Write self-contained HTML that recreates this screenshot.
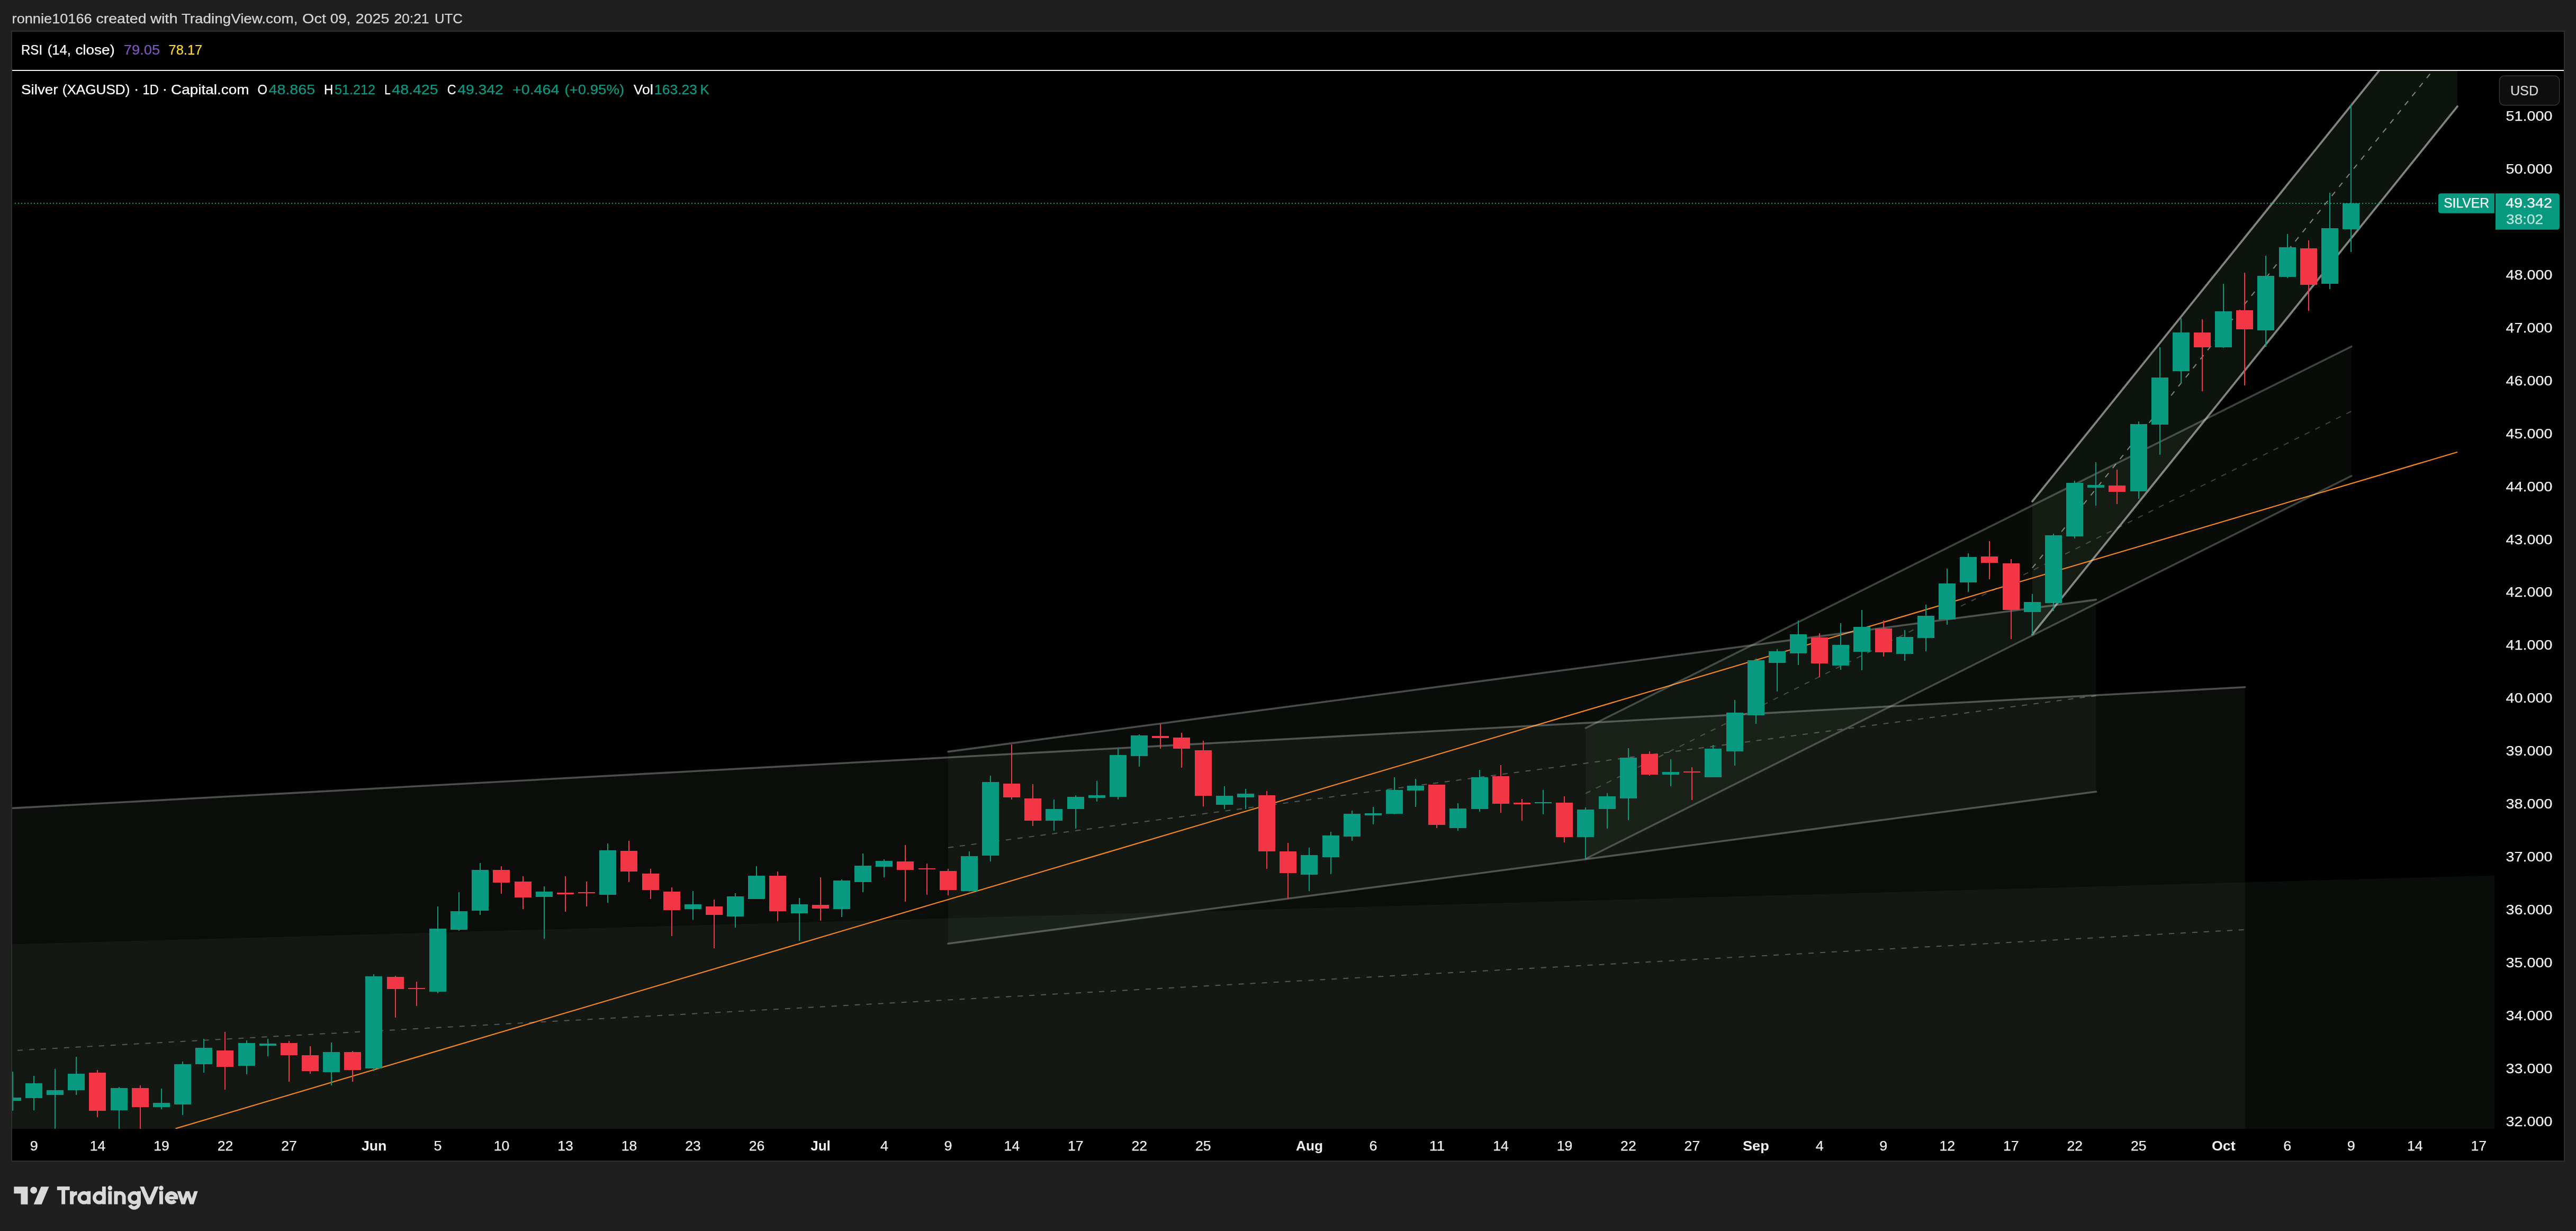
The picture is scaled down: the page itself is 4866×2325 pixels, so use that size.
<!DOCTYPE html>
<html><head><meta charset="utf-8"><title>Silver chart</title>
<style>html,body{margin:0;padding:0;background:#1f1f1f;}body{width:4866px;height:2325px;overflow:hidden;}svg{display:block;}text{font-family:"Liberation Sans",sans-serif;}</style></head><body>
<svg width="4866" height="2325" viewBox="0 0 4866 2325">
<defs><clipPath id="pane"><rect x="23.0" y="134.0" width="4689.0" height="1998.0"/></clipPath></defs>
<rect x="0" y="0" width="4866" height="2325" fill="#1f1f1f"/>
<rect x="22" y="59" width="4822" height="2134" fill="#000" stroke="#2e2e2e" stroke-width="2"/>
<g clip-path="url(#pane)">
<polygon points="0,1527.6 4240.8,1297.8 4240.8,2400 0,2400" fill="rgba(137,165,128,0.08)"/>
<polygon points="0,1784.1 4711.9,1653.4 4711.9,2400 0,2400" fill="rgba(110,162,122,0.08)"/>
<polygon points="1791.0,1419.6 3959.5,1132.6 3959.5,1495.3 1791.0,1782.3" fill="rgba(110,162,122,0.08)"/>
<polygon points="2995.4,1375.0 4441.9,654.3 4441.9,898.9 2995.4,1622.0" fill="rgba(130,170,130,0.062)"/>
<polygon points="3839.0,947.0 4641.9,-50.2 4641.9,201.1 3839.0,1198.3" fill="rgba(130,190,130,0.10)"/>
<line x1="331.5" y1="2131.6" x2="4642.1" y2="853.8" stroke="#f5861f" stroke-width="2.2" stroke-linecap="butt"/>
<line x1="0.0" y1="1527.6" x2="4240.8" y2="1297.8" stroke="rgba(212,218,212,0.34)" stroke-width="3.6" stroke-linecap="round"/>
<line x1="11.0" y1="1985.0" x2="4240.8" y2="1755.8" stroke="rgba(212,218,212,0.34)" stroke-width="2" stroke-linecap="butt" stroke-dasharray="10 12"/>
<line x1="1791.0" y1="1419.6" x2="3959.5" y2="1132.6" stroke="rgba(212,218,212,0.33)" stroke-width="3.6" stroke-linecap="round"/>
<line x1="1791.0" y1="1782.3" x2="3959.5" y2="1495.3" stroke="rgba(212,218,212,0.33)" stroke-width="3.6" stroke-linecap="round"/>
<line x1="1791.0" y1="1600.9" x2="3959.5" y2="1313.9" stroke="rgba(212,218,212,0.33)" stroke-width="2" stroke-linecap="butt" stroke-dasharray="10 12"/>
<line x1="2995.4" y1="1375.0" x2="4441.9" y2="654.3" stroke="rgba(205,222,205,0.29)" stroke-width="3.6" stroke-linecap="round"/>
<line x1="2995.4" y1="1622.0" x2="4441.9" y2="898.9" stroke="rgba(205,222,205,0.29)" stroke-width="3.6" stroke-linecap="round"/>
<line x1="2995.4" y1="1498.5" x2="4441.9" y2="776.6" stroke="rgba(205,222,205,0.29)" stroke-width="2" stroke-linecap="butt" stroke-dasharray="10 12"/>
<line x1="3839.0" y1="947.0" x2="4641.9" y2="-50.2" stroke="rgba(218,220,214,0.58)" stroke-width="3.8" stroke-linecap="round"/>
<line x1="3839.0" y1="1198.3" x2="4641.9" y2="201.1" stroke="rgba(218,220,214,0.58)" stroke-width="3.8" stroke-linecap="round"/>
<line x1="3839.0" y1="1072.7" x2="4641.9" y2="75.4" stroke="rgba(218,220,214,0.58)" stroke-width="2" stroke-linecap="butt" stroke-dasharray="10 12"/>
<line x1="28" y1="384" x2="4603" y2="384" stroke="#089c84" stroke-width="2" stroke-dasharray="2 4"/>
<rect x="23" y="2024" width="2" height="74" fill="#089981"/>
<rect x="8" y="2073" width="32" height="6" fill="#089981"/>
<rect x="63" y="2032" width="2" height="65" fill="#089981"/>
<rect x="48" y="2046" width="32" height="28" fill="#089981"/>
<rect x="103" y="2019" width="2" height="157" fill="#089981"/>
<rect x="88" y="2059" width="32" height="9" fill="#089981"/>
<rect x="143" y="1996" width="2" height="72" fill="#089981"/>
<rect x="128" y="2028" width="32" height="31" fill="#089981"/>
<rect x="183" y="2021" width="2" height="89" fill="#f23645"/>
<rect x="168" y="2026" width="32" height="72" fill="#f23645"/>
<rect x="224" y="2053" width="2" height="123" fill="#089981"/>
<rect x="209" y="2055" width="32" height="42" fill="#089981"/>
<rect x="264" y="2050" width="2" height="126" fill="#f23645"/>
<rect x="249" y="2055" width="32" height="36" fill="#f23645"/>
<rect x="304" y="2056" width="2" height="39" fill="#089981"/>
<rect x="289" y="2083" width="32" height="8" fill="#089981"/>
<rect x="344" y="2005" width="2" height="101" fill="#089981"/>
<rect x="329" y="2010" width="32" height="76" fill="#089981"/>
<rect x="384" y="1962" width="2" height="64" fill="#089981"/>
<rect x="369" y="1979" width="32" height="31" fill="#089981"/>
<rect x="424" y="1949" width="2" height="109" fill="#f23645"/>
<rect x="409" y="1984" width="32" height="31" fill="#f23645"/>
<rect x="465" y="1965" width="2" height="64" fill="#089981"/>
<rect x="450" y="1970" width="32" height="43" fill="#089981"/>
<rect x="505" y="1962" width="2" height="33" fill="#089981"/>
<rect x="490" y="1971" width="32" height="4" fill="#089981"/>
<rect x="545" y="1966" width="2" height="77" fill="#f23645"/>
<rect x="530" y="1970" width="32" height="23" fill="#f23645"/>
<rect x="585" y="1976" width="2" height="52" fill="#f23645"/>
<rect x="570" y="1993" width="32" height="30" fill="#f23645"/>
<rect x="625" y="1969" width="2" height="81" fill="#089981"/>
<rect x="610" y="1987" width="32" height="38" fill="#089981"/>
<rect x="665" y="1985" width="2" height="58" fill="#f23645"/>
<rect x="650" y="1987" width="32" height="34" fill="#f23645"/>
<rect x="705" y="1840" width="2" height="183" fill="#089981"/>
<rect x="690" y="1844" width="32" height="174" fill="#089981"/>
<rect x="746" y="1843" width="2" height="79" fill="#f23645"/>
<rect x="731" y="1845" width="32" height="23" fill="#f23645"/>
<rect x="786" y="1854" width="2" height="46" fill="#f23645"/>
<rect x="771" y="1866" width="32" height="2" fill="#f23645"/>
<rect x="826" y="1712" width="2" height="164" fill="#089981"/>
<rect x="811" y="1754" width="32" height="119" fill="#089981"/>
<rect x="866" y="1685" width="2" height="73" fill="#089981"/>
<rect x="851" y="1721" width="32" height="35" fill="#089981"/>
<rect x="906" y="1630" width="2" height="98" fill="#089981"/>
<rect x="891" y="1643" width="32" height="77" fill="#089981"/>
<rect x="946" y="1636" width="2" height="52" fill="#f23645"/>
<rect x="931" y="1643" width="32" height="24" fill="#f23645"/>
<rect x="987" y="1655" width="2" height="62" fill="#f23645"/>
<rect x="972" y="1665" width="32" height="30" fill="#f23645"/>
<rect x="1027" y="1674" width="2" height="99" fill="#089981"/>
<rect x="1012" y="1684" width="32" height="10" fill="#089981"/>
<rect x="1067" y="1655" width="2" height="67" fill="#f23645"/>
<rect x="1052" y="1686" width="32" height="3" fill="#f23645"/>
<rect x="1107" y="1665" width="2" height="47" fill="#f23645"/>
<rect x="1092" y="1685" width="32" height="2" fill="#f23645"/>
<rect x="1147" y="1593" width="2" height="112" fill="#089981"/>
<rect x="1132" y="1606" width="32" height="84" fill="#089981"/>
<rect x="1187" y="1588" width="2" height="78" fill="#f23645"/>
<rect x="1172" y="1607" width="32" height="39" fill="#f23645"/>
<rect x="1228" y="1641" width="2" height="57" fill="#f23645"/>
<rect x="1213" y="1650" width="32" height="31" fill="#f23645"/>
<rect x="1268" y="1676" width="2" height="92" fill="#f23645"/>
<rect x="1253" y="1684" width="32" height="35" fill="#f23645"/>
<rect x="1308" y="1683" width="2" height="54" fill="#089981"/>
<rect x="1293" y="1708" width="32" height="9" fill="#089981"/>
<rect x="1348" y="1699" width="2" height="92" fill="#f23645"/>
<rect x="1333" y="1712" width="32" height="16" fill="#f23645"/>
<rect x="1388" y="1687" width="2" height="65" fill="#089981"/>
<rect x="1373" y="1693" width="32" height="38" fill="#089981"/>
<rect x="1428" y="1636" width="2" height="62" fill="#089981"/>
<rect x="1413" y="1654" width="32" height="44" fill="#089981"/>
<rect x="1468" y="1646" width="2" height="94" fill="#f23645"/>
<rect x="1453" y="1654" width="32" height="67" fill="#f23645"/>
<rect x="1509" y="1696" width="2" height="81" fill="#089981"/>
<rect x="1494" y="1708" width="32" height="17" fill="#089981"/>
<rect x="1549" y="1657" width="2" height="82" fill="#f23645"/>
<rect x="1534" y="1709" width="32" height="7" fill="#f23645"/>
<rect x="1589" y="1661" width="2" height="71" fill="#089981"/>
<rect x="1574" y="1663" width="32" height="54" fill="#089981"/>
<rect x="1629" y="1612" width="2" height="73" fill="#089981"/>
<rect x="1614" y="1635" width="32" height="31" fill="#089981"/>
<rect x="1669" y="1623" width="2" height="34" fill="#089981"/>
<rect x="1654" y="1626" width="32" height="11" fill="#089981"/>
<rect x="1709" y="1596" width="2" height="107" fill="#f23645"/>
<rect x="1694" y="1627" width="32" height="16" fill="#f23645"/>
<rect x="1750" y="1631" width="2" height="59" fill="#f23645"/>
<rect x="1735" y="1640" width="32" height="2" fill="#f23645"/>
<rect x="1790" y="1641" width="2" height="50" fill="#f23645"/>
<rect x="1775" y="1645" width="32" height="36" fill="#f23645"/>
<rect x="1830" y="1608" width="2" height="76" fill="#089981"/>
<rect x="1815" y="1617" width="32" height="66" fill="#089981"/>
<rect x="1870" y="1465" width="2" height="162" fill="#089981"/>
<rect x="1855" y="1477" width="32" height="139" fill="#089981"/>
<rect x="1910" y="1406" width="2" height="104" fill="#f23645"/>
<rect x="1895" y="1480" width="32" height="26" fill="#f23645"/>
<rect x="1950" y="1481" width="2" height="79" fill="#f23645"/>
<rect x="1935" y="1508" width="32" height="42" fill="#f23645"/>
<rect x="1990" y="1510" width="2" height="59" fill="#089981"/>
<rect x="1975" y="1528" width="32" height="22" fill="#089981"/>
<rect x="2031" y="1502" width="2" height="63" fill="#089981"/>
<rect x="2016" y="1505" width="32" height="23" fill="#089981"/>
<rect x="2071" y="1475" width="2" height="39" fill="#089981"/>
<rect x="2056" y="1502" width="32" height="5" fill="#089981"/>
<rect x="2111" y="1414" width="2" height="96" fill="#089981"/>
<rect x="2096" y="1426" width="32" height="79" fill="#089981"/>
<rect x="2151" y="1387" width="2" height="61" fill="#089981"/>
<rect x="2136" y="1389" width="32" height="39" fill="#089981"/>
<rect x="2191" y="1367" width="2" height="47" fill="#f23645"/>
<rect x="2176" y="1390" width="32" height="4" fill="#f23645"/>
<rect x="2231" y="1384" width="2" height="66" fill="#f23645"/>
<rect x="2216" y="1393" width="32" height="21" fill="#f23645"/>
<rect x="2272" y="1399" width="2" height="124" fill="#f23645"/>
<rect x="2257" y="1417" width="32" height="86" fill="#f23645"/>
<rect x="2312" y="1485" width="2" height="43" fill="#089981"/>
<rect x="2297" y="1503" width="32" height="17" fill="#089981"/>
<rect x="2352" y="1490" width="2" height="38" fill="#089981"/>
<rect x="2337" y="1499" width="32" height="7" fill="#089981"/>
<rect x="2392" y="1494" width="2" height="147" fill="#f23645"/>
<rect x="2377" y="1502" width="32" height="106" fill="#f23645"/>
<rect x="2432" y="1592" width="2" height="105" fill="#f23645"/>
<rect x="2417" y="1608" width="32" height="41" fill="#f23645"/>
<rect x="2472" y="1601" width="2" height="82" fill="#089981"/>
<rect x="2457" y="1615" width="32" height="37" fill="#089981"/>
<rect x="2513" y="1571" width="2" height="80" fill="#089981"/>
<rect x="2498" y="1578" width="32" height="41" fill="#089981"/>
<rect x="2553" y="1531" width="2" height="57" fill="#089981"/>
<rect x="2538" y="1537" width="32" height="43" fill="#089981"/>
<rect x="2593" y="1524" width="2" height="33" fill="#089981"/>
<rect x="2578" y="1536" width="32" height="4" fill="#089981"/>
<rect x="2633" y="1468" width="2" height="70" fill="#089981"/>
<rect x="2618" y="1492" width="32" height="45" fill="#089981"/>
<rect x="2673" y="1471" width="2" height="53" fill="#089981"/>
<rect x="2658" y="1484" width="32" height="9" fill="#089981"/>
<rect x="2713" y="1482" width="2" height="82" fill="#f23645"/>
<rect x="2698" y="1482" width="32" height="76" fill="#f23645"/>
<rect x="2753" y="1517" width="2" height="52" fill="#089981"/>
<rect x="2738" y="1527" width="32" height="37" fill="#089981"/>
<rect x="2794" y="1454" width="2" height="79" fill="#089981"/>
<rect x="2779" y="1468" width="32" height="60" fill="#089981"/>
<rect x="2834" y="1445" width="2" height="90" fill="#f23645"/>
<rect x="2819" y="1466" width="32" height="52" fill="#f23645"/>
<rect x="2874" y="1509" width="2" height="41" fill="#f23645"/>
<rect x="2859" y="1516" width="32" height="3" fill="#f23645"/>
<rect x="2914" y="1492" width="2" height="46" fill="#089981"/>
<rect x="2899" y="1515" width="32" height="2" fill="#089981"/>
<rect x="2954" y="1504" width="2" height="87" fill="#f23645"/>
<rect x="2939" y="1516" width="32" height="65" fill="#f23645"/>
<rect x="2994" y="1525" width="2" height="98" fill="#089981"/>
<rect x="2979" y="1529" width="32" height="52" fill="#089981"/>
<rect x="3035" y="1498" width="2" height="67" fill="#089981"/>
<rect x="3020" y="1504" width="32" height="24" fill="#089981"/>
<rect x="3075" y="1413" width="2" height="136" fill="#089981"/>
<rect x="3060" y="1431" width="32" height="77" fill="#089981"/>
<rect x="3115" y="1419" width="2" height="46" fill="#f23645"/>
<rect x="3100" y="1424" width="32" height="39" fill="#f23645"/>
<rect x="3155" y="1434" width="2" height="51" fill="#089981"/>
<rect x="3140" y="1458" width="32" height="5" fill="#089981"/>
<rect x="3195" y="1449" width="2" height="62" fill="#f23645"/>
<rect x="3180" y="1457" width="32" height="2" fill="#f23645"/>
<rect x="3235" y="1407" width="2" height="61" fill="#089981"/>
<rect x="3220" y="1414" width="32" height="54" fill="#089981"/>
<rect x="3276" y="1322" width="2" height="124" fill="#089981"/>
<rect x="3261" y="1346" width="32" height="73" fill="#089981"/>
<rect x="3316" y="1244" width="2" height="123" fill="#089981"/>
<rect x="3301" y="1247" width="32" height="104" fill="#089981"/>
<rect x="3356" y="1226" width="2" height="80" fill="#089981"/>
<rect x="3341" y="1230" width="32" height="22" fill="#089981"/>
<rect x="3396" y="1172" width="2" height="84" fill="#089981"/>
<rect x="3381" y="1198" width="32" height="36" fill="#089981"/>
<rect x="3436" y="1196" width="2" height="83" fill="#f23645"/>
<rect x="3421" y="1204" width="32" height="49" fill="#f23645"/>
<rect x="3476" y="1177" width="2" height="88" fill="#089981"/>
<rect x="3461" y="1218" width="32" height="39" fill="#089981"/>
<rect x="3516" y="1152" width="2" height="114" fill="#089981"/>
<rect x="3501" y="1184" width="32" height="47" fill="#089981"/>
<rect x="3557" y="1172" width="2" height="68" fill="#f23645"/>
<rect x="3542" y="1187" width="32" height="45" fill="#f23645"/>
<rect x="3597" y="1190" width="2" height="58" fill="#089981"/>
<rect x="3582" y="1203" width="32" height="32" fill="#089981"/>
<rect x="3637" y="1142" width="2" height="88" fill="#089981"/>
<rect x="3622" y="1163" width="32" height="42" fill="#089981"/>
<rect x="3677" y="1074" width="2" height="106" fill="#089981"/>
<rect x="3662" y="1102" width="32" height="68" fill="#089981"/>
<rect x="3717" y="1045" width="2" height="73" fill="#089981"/>
<rect x="3702" y="1052" width="32" height="48" fill="#089981"/>
<rect x="3757" y="1022" width="2" height="72" fill="#f23645"/>
<rect x="3742" y="1051" width="32" height="12" fill="#f23645"/>
<rect x="3798" y="1056" width="2" height="151" fill="#f23645"/>
<rect x="3783" y="1064" width="32" height="88" fill="#f23645"/>
<rect x="3838" y="1122" width="2" height="77" fill="#089981"/>
<rect x="3823" y="1137" width="32" height="19" fill="#089981"/>
<rect x="3878" y="1008" width="2" height="146" fill="#089981"/>
<rect x="3863" y="1011" width="32" height="128" fill="#089981"/>
<rect x="3918" y="908" width="2" height="109" fill="#089981"/>
<rect x="3903" y="912" width="32" height="101" fill="#089981"/>
<rect x="3958" y="873" width="2" height="82" fill="#089981"/>
<rect x="3943" y="916" width="32" height="5" fill="#089981"/>
<rect x="3998" y="887" width="2" height="65" fill="#f23645"/>
<rect x="3983" y="917" width="32" height="12" fill="#f23645"/>
<rect x="4039" y="796" width="2" height="146" fill="#089981"/>
<rect x="4024" y="801" width="32" height="127" fill="#089981"/>
<rect x="4079" y="656" width="2" height="203" fill="#089981"/>
<rect x="4064" y="713" width="32" height="89" fill="#089981"/>
<rect x="4119" y="601" width="2" height="123" fill="#089981"/>
<rect x="4104" y="628" width="32" height="73" fill="#089981"/>
<rect x="4159" y="603" width="2" height="136" fill="#f23645"/>
<rect x="4144" y="628" width="32" height="28" fill="#f23645"/>
<rect x="4199" y="536" width="2" height="121" fill="#089981"/>
<rect x="4184" y="588" width="32" height="68" fill="#089981"/>
<rect x="4239" y="515" width="2" height="213" fill="#f23645"/>
<rect x="4224" y="586" width="32" height="36" fill="#f23645"/>
<rect x="4279" y="483" width="2" height="172" fill="#089981"/>
<rect x="4264" y="521" width="32" height="103" fill="#089981"/>
<rect x="4320" y="442" width="2" height="83" fill="#089981"/>
<rect x="4305" y="467" width="32" height="56" fill="#089981"/>
<rect x="4360" y="454" width="2" height="133" fill="#f23645"/>
<rect x="4345" y="469" width="32" height="69" fill="#f23645"/>
<rect x="4400" y="364" width="2" height="182" fill="#089981"/>
<rect x="4385" y="431" width="32" height="105" fill="#089981"/>
<rect x="4440" y="197" width="2" height="279" fill="#089981"/>
<rect x="4425" y="384" width="32" height="49" fill="#089981"/>
</g>
<rect x="23" y="132" width="4820" height="2" fill="#f6f7fb"/>
<defs><mask id="tm" maskUnits="userSpaceOnUse" x="0" y="0" width="4866" height="2325"><rect x="0" y="0" width="4866" height="2325" fill="#fff"/></mask></defs>
<g mask="url(#tm)">
<text x="22.6" y="43.6" font-size="25.4" fill="#d6d6d6" textLength="151.1" lengthAdjust="spacingAndGlyphs" stroke="#d6d6d6" stroke-width="0.25" stroke-linejoin="round">ronnie10166</text>
<text x="181.5" y="43.6" font-size="25.4" fill="#d6d6d6" textLength="95.0" lengthAdjust="spacingAndGlyphs" stroke="#d6d6d6" stroke-width="0.25" stroke-linejoin="round">created</text>
<text x="283.9" y="43.6" font-size="25.4" fill="#d6d6d6" textLength="51.7" lengthAdjust="spacingAndGlyphs" stroke="#d6d6d6" stroke-width="0.25" stroke-linejoin="round">with</text>
<text x="342.9" y="43.6" font-size="25.4" fill="#d6d6d6" textLength="219.5" lengthAdjust="spacingAndGlyphs" stroke="#d6d6d6" stroke-width="0.25" stroke-linejoin="round">TradingView.com,</text>
<text x="571.1" y="43.6" font-size="25.4" fill="#d6d6d6" textLength="44.8" lengthAdjust="spacingAndGlyphs" stroke="#d6d6d6" stroke-width="0.25" stroke-linejoin="round">Oct</text>
<text x="623.7" y="43.6" font-size="25.4" fill="#d6d6d6" textLength="38.6" lengthAdjust="spacingAndGlyphs" stroke="#d6d6d6" stroke-width="0.25" stroke-linejoin="round">09,</text>
<text x="671.8" y="43.6" font-size="25.4" fill="#d6d6d6" textLength="63.6" lengthAdjust="spacingAndGlyphs" stroke="#d6d6d6" stroke-width="0.25" stroke-linejoin="round">2025</text>
<text x="744.4" y="43.6" font-size="25.4" fill="#d6d6d6" textLength="66.2" lengthAdjust="spacingAndGlyphs" stroke="#d6d6d6" stroke-width="0.25" stroke-linejoin="round">20:21</text>
<text x="820.9" y="43.6" font-size="25.4" fill="#d6d6d6" textLength="52.9" lengthAdjust="spacingAndGlyphs" stroke="#d6d6d6" stroke-width="0.25" stroke-linejoin="round">UTC</text>
<text x="40.0" y="102.7" font-size="25.4" fill="#fff" textLength="40.1" lengthAdjust="spacingAndGlyphs" stroke="#fff" stroke-width="0.25" stroke-linejoin="round">RSI</text>
<text x="89.7" y="102.7" font-size="25.4" fill="#fff" textLength="44.3" lengthAdjust="spacingAndGlyphs" stroke="#fff" stroke-width="0.25" stroke-linejoin="round">(14,</text>
<text x="142.4" y="102.7" font-size="25.4" fill="#fff" textLength="74.4" lengthAdjust="spacingAndGlyphs" stroke="#fff" stroke-width="0.25" stroke-linejoin="round">close)</text>
<text x="233.7" y="102.7" font-size="25.4" fill="#7e57c2" textLength="68.5" lengthAdjust="spacingAndGlyphs" stroke="#7e57c2" stroke-width="0.25" stroke-linejoin="round">79.05</text>
<text x="318.5" y="102.7" font-size="25.4" fill="#fdd835" textLength="63.8" lengthAdjust="spacingAndGlyphs" stroke="#fdd835" stroke-width="0.25" stroke-linejoin="round">78.17</text>
<text x="40.0" y="178.0" font-size="25.4" fill="#fff" textLength="69.5" lengthAdjust="spacingAndGlyphs" stroke="#fff" stroke-width="0.25" stroke-linejoin="round">Silver</text>
<text x="117.7" y="178.0" font-size="25.4" fill="#fff" textLength="127.7" lengthAdjust="spacingAndGlyphs" stroke="#fff" stroke-width="0.25" stroke-linejoin="round">(XAGUSD)</text>
<text x="269.6" y="178.0" font-size="25.4" fill="#fff" textLength="30.1" lengthAdjust="spacingAndGlyphs" stroke="#fff" stroke-width="0.25" stroke-linejoin="round">1D</text>
<text x="323.1" y="178.0" font-size="25.4" fill="#fff" textLength="147.3" lengthAdjust="spacingAndGlyphs" stroke="#fff" stroke-width="0.25" stroke-linejoin="round">Capital.com</text>
<circle cx="257.6" cy="169.8" r="1.9" fill="#fff"/><circle cx="311.3" cy="169.8" r="1.9" fill="#fff"/>
<text x="486.4" y="178.0" font-size="25.4" fill="#fff" textLength="18.5" lengthAdjust="spacingAndGlyphs" stroke="#fff" stroke-width="0.25" stroke-linejoin="round">O</text>
<text x="507.6" y="178.0" font-size="25.4" fill="#0a9b83" textLength="87.5" lengthAdjust="spacingAndGlyphs" stroke="#0a9b83" stroke-width="0.25" stroke-linejoin="round">48.865</text>
<text x="612.0" y="178.0" font-size="25.4" fill="#fff" textLength="17.3" lengthAdjust="spacingAndGlyphs" stroke="#fff" stroke-width="0.25" stroke-linejoin="round">H</text>
<text x="632.0" y="178.0" font-size="25.4" fill="#0a9b83" textLength="77.0" lengthAdjust="spacingAndGlyphs" stroke="#0a9b83" stroke-width="0.25" stroke-linejoin="round">51.212</text>
<text x="726.2" y="178.0" font-size="25.4" fill="#fff" textLength="11.5" lengthAdjust="spacingAndGlyphs" stroke="#fff" stroke-width="0.25" stroke-linejoin="round">L</text>
<text x="740.3" y="178.0" font-size="25.4" fill="#0a9b83" textLength="87.3" lengthAdjust="spacingAndGlyphs" stroke="#0a9b83" stroke-width="0.25" stroke-linejoin="round">48.425</text>
<text x="844.7" y="178.0" font-size="25.4" fill="#fff" textLength="16.8" lengthAdjust="spacingAndGlyphs" stroke="#fff" stroke-width="0.25" stroke-linejoin="round">C</text>
<text x="864.2" y="178.0" font-size="25.4" fill="#0a9b83" textLength="86.7" lengthAdjust="spacingAndGlyphs" stroke="#0a9b83" stroke-width="0.25" stroke-linejoin="round">49.342</text>
<text x="968.0" y="178.0" font-size="25.4" fill="#0a9b83" textLength="88.4" lengthAdjust="spacingAndGlyphs" stroke="#0a9b83" stroke-width="0.25" stroke-linejoin="round">+0.464</text>
<text x="1066.4" y="178.0" font-size="25.4" fill="#0a9b83" textLength="112.8" lengthAdjust="spacingAndGlyphs" stroke="#0a9b83" stroke-width="0.25" stroke-linejoin="round">(+0.95%)</text>
<text x="1196.8" y="178.0" font-size="25.4" fill="#fff" textLength="37.0" lengthAdjust="spacingAndGlyphs" stroke="#fff" stroke-width="0.25" stroke-linejoin="round">Vol</text>
<text x="1236.0" y="178.0" font-size="25.4" fill="#0a9b83" textLength="81.0" lengthAdjust="spacingAndGlyphs" stroke="#0a9b83" stroke-width="0.25" stroke-linejoin="round">163.23</text>
<text x="1322.5" y="178.0" font-size="25.4" fill="#0a9b83" textLength="17.3" lengthAdjust="spacingAndGlyphs" stroke="#0a9b83" stroke-width="0.25" stroke-linejoin="round">K</text>
<rect x="4721.4" y="143.3" width="113.2" height="55.4" rx="9" ry="9" fill="#0e0e0e" stroke="#363636" stroke-width="1.5"/>
<text x="4741.9" y="179.9" font-size="25.4" fill="#d6d6d6" textLength="53.3" lengthAdjust="spacingAndGlyphs" stroke="#d6d6d6" stroke-width="0.25" stroke-linejoin="round">USD</text>
<text x="4733.6" y="2126.5" font-size="25.4" fill="#f0f0f0" textLength="87.8" lengthAdjust="spacingAndGlyphs" stroke="#f0f0f0" stroke-width="0.25" stroke-linejoin="round">32.000</text>
<text x="4733.6" y="2026.6" font-size="25.4" fill="#f0f0f0" textLength="87.8" lengthAdjust="spacingAndGlyphs" stroke="#f0f0f0" stroke-width="0.25" stroke-linejoin="round">33.000</text>
<text x="4733.6" y="1926.7" font-size="25.4" fill="#f0f0f0" textLength="87.8" lengthAdjust="spacingAndGlyphs" stroke="#f0f0f0" stroke-width="0.25" stroke-linejoin="round">34.000</text>
<text x="4733.6" y="1826.8" font-size="25.4" fill="#f0f0f0" textLength="87.8" lengthAdjust="spacingAndGlyphs" stroke="#f0f0f0" stroke-width="0.25" stroke-linejoin="round">35.000</text>
<text x="4733.6" y="1726.9" font-size="25.4" fill="#f0f0f0" textLength="87.8" lengthAdjust="spacingAndGlyphs" stroke="#f0f0f0" stroke-width="0.25" stroke-linejoin="round">36.000</text>
<text x="4733.6" y="1626.9" font-size="25.4" fill="#f0f0f0" textLength="87.8" lengthAdjust="spacingAndGlyphs" stroke="#f0f0f0" stroke-width="0.25" stroke-linejoin="round">37.000</text>
<text x="4733.6" y="1527.0" font-size="25.4" fill="#f0f0f0" textLength="87.8" lengthAdjust="spacingAndGlyphs" stroke="#f0f0f0" stroke-width="0.25" stroke-linejoin="round">38.000</text>
<text x="4733.6" y="1427.1" font-size="25.4" fill="#f0f0f0" textLength="87.8" lengthAdjust="spacingAndGlyphs" stroke="#f0f0f0" stroke-width="0.25" stroke-linejoin="round">39.000</text>
<text x="4733.6" y="1327.2" font-size="25.4" fill="#f0f0f0" textLength="87.8" lengthAdjust="spacingAndGlyphs" stroke="#f0f0f0" stroke-width="0.25" stroke-linejoin="round">40.000</text>
<text x="4733.6" y="1227.3" font-size="25.4" fill="#f0f0f0" textLength="87.8" lengthAdjust="spacingAndGlyphs" stroke="#f0f0f0" stroke-width="0.25" stroke-linejoin="round">41.000</text>
<text x="4733.6" y="1127.4" font-size="25.4" fill="#f0f0f0" textLength="87.8" lengthAdjust="spacingAndGlyphs" stroke="#f0f0f0" stroke-width="0.25" stroke-linejoin="round">42.000</text>
<text x="4733.6" y="1027.5" font-size="25.4" fill="#f0f0f0" textLength="87.8" lengthAdjust="spacingAndGlyphs" stroke="#f0f0f0" stroke-width="0.25" stroke-linejoin="round">43.000</text>
<text x="4733.6" y="927.6" font-size="25.4" fill="#f0f0f0" textLength="87.8" lengthAdjust="spacingAndGlyphs" stroke="#f0f0f0" stroke-width="0.25" stroke-linejoin="round">44.000</text>
<text x="4733.6" y="827.7" font-size="25.4" fill="#f0f0f0" textLength="87.8" lengthAdjust="spacingAndGlyphs" stroke="#f0f0f0" stroke-width="0.25" stroke-linejoin="round">45.000</text>
<text x="4733.6" y="727.8" font-size="25.4" fill="#f0f0f0" textLength="87.8" lengthAdjust="spacingAndGlyphs" stroke="#f0f0f0" stroke-width="0.25" stroke-linejoin="round">46.000</text>
<text x="4733.6" y="627.8" font-size="25.4" fill="#f0f0f0" textLength="87.8" lengthAdjust="spacingAndGlyphs" stroke="#f0f0f0" stroke-width="0.25" stroke-linejoin="round">47.000</text>
<text x="4733.6" y="527.9" font-size="25.4" fill="#f0f0f0" textLength="87.8" lengthAdjust="spacingAndGlyphs" stroke="#f0f0f0" stroke-width="0.25" stroke-linejoin="round">48.000</text>
<text x="4733.6" y="328.1" font-size="25.4" fill="#f0f0f0" textLength="87.8" lengthAdjust="spacingAndGlyphs" stroke="#f0f0f0" stroke-width="0.25" stroke-linejoin="round">50.000</text>
<text x="4733.6" y="228.2" font-size="25.4" fill="#f0f0f0" textLength="87.8" lengthAdjust="spacingAndGlyphs" stroke="#f0f0f0" stroke-width="0.25" stroke-linejoin="round">51.000</text>
<path d="M4610.5,365.2 H4711.9 V402.8 H4610.5 a4.5,4.5 0 0 1 -4.5,-4.5 V369.7 a4.5,4.5 0 0 1 4.5,-4.5 Z" fill="#089981"/>
<text x="4616.2" y="392.2" font-size="25.4" fill="#fff" textLength="85.8" lengthAdjust="spacingAndGlyphs" stroke="#fff" stroke-width="0.25" stroke-linejoin="round">SILVER</text>
<path d="M4714,365.2 H4830.4 a4.5,4.5 0 0 1 4.5,4.5 V429.2 a4.5,4.5 0 0 1 -4.5,4.5 H4714 Z" fill="#089981"/>
<text x="4733.0" y="392.2" font-size="25.4" fill="#fff" textLength="88.0" lengthAdjust="spacingAndGlyphs" stroke="#fff" stroke-width="0.25" stroke-linejoin="round">49.342</text>
<text x="4734.1" y="423.3" font-size="25.4" fill="rgba(255,255,255,0.72)" textLength="70.0" lengthAdjust="spacingAndGlyphs" stroke="rgba(255,255,255,0.72)" stroke-width="0.25" stroke-linejoin="round">38:02</text>
<text x="56.7" y="2172.9" font-size="25.4" fill="#f0f0f0" textLength="15.0" lengthAdjust="spacingAndGlyphs" stroke="#f0f0f0" stroke-width="0.25" stroke-linejoin="round">9</text>
<text x="169.8" y="2172.9" font-size="25.4" fill="#f0f0f0" textLength="29.6" lengthAdjust="spacingAndGlyphs" stroke="#f0f0f0" stroke-width="0.25" stroke-linejoin="round">14</text>
<text x="290.3" y="2172.9" font-size="25.4" fill="#f0f0f0" textLength="29.6" lengthAdjust="spacingAndGlyphs" stroke="#f0f0f0" stroke-width="0.25" stroke-linejoin="round">19</text>
<text x="410.8" y="2172.9" font-size="25.4" fill="#f0f0f0" textLength="29.6" lengthAdjust="spacingAndGlyphs" stroke="#f0f0f0" stroke-width="0.25" stroke-linejoin="round">22</text>
<text x="531.2" y="2172.9" font-size="25.4" fill="#f0f0f0" textLength="29.6" lengthAdjust="spacingAndGlyphs" stroke="#f0f0f0" stroke-width="0.25" stroke-linejoin="round">27</text>
<text x="682.9" y="2172.9" font-size="25.4" fill="#f0f0f0" textLength="47.5" lengthAdjust="spacingAndGlyphs" font-weight="bold">Jun</text>
<text x="819.6" y="2172.9" font-size="25.4" fill="#f0f0f0" textLength="15.0" lengthAdjust="spacingAndGlyphs" stroke="#f0f0f0" stroke-width="0.25" stroke-linejoin="round">5</text>
<text x="932.8" y="2172.9" font-size="25.4" fill="#f0f0f0" textLength="29.6" lengthAdjust="spacingAndGlyphs" stroke="#f0f0f0" stroke-width="0.25" stroke-linejoin="round">10</text>
<text x="1053.3" y="2172.9" font-size="25.4" fill="#f0f0f0" textLength="29.6" lengthAdjust="spacingAndGlyphs" stroke="#f0f0f0" stroke-width="0.25" stroke-linejoin="round">13</text>
<text x="1173.7" y="2172.9" font-size="25.4" fill="#f0f0f0" textLength="29.6" lengthAdjust="spacingAndGlyphs" stroke="#f0f0f0" stroke-width="0.25" stroke-linejoin="round">18</text>
<text x="1294.2" y="2172.9" font-size="25.4" fill="#f0f0f0" textLength="29.6" lengthAdjust="spacingAndGlyphs" stroke="#f0f0f0" stroke-width="0.25" stroke-linejoin="round">23</text>
<text x="1414.7" y="2172.9" font-size="25.4" fill="#f0f0f0" textLength="29.6" lengthAdjust="spacingAndGlyphs" stroke="#f0f0f0" stroke-width="0.25" stroke-linejoin="round">26</text>
<text x="1531.2" y="2172.9" font-size="25.4" fill="#f0f0f0" textLength="37.6" lengthAdjust="spacingAndGlyphs" font-weight="bold">Jul</text>
<text x="1662.9" y="2172.9" font-size="25.4" fill="#f0f0f0" textLength="15.0" lengthAdjust="spacingAndGlyphs" stroke="#f0f0f0" stroke-width="0.25" stroke-linejoin="round">4</text>
<text x="1783.4" y="2172.9" font-size="25.4" fill="#f0f0f0" textLength="15.0" lengthAdjust="spacingAndGlyphs" stroke="#f0f0f0" stroke-width="0.25" stroke-linejoin="round">9</text>
<text x="1896.6" y="2172.9" font-size="25.4" fill="#f0f0f0" textLength="29.6" lengthAdjust="spacingAndGlyphs" stroke="#f0f0f0" stroke-width="0.25" stroke-linejoin="round">14</text>
<text x="2017.0" y="2172.9" font-size="25.4" fill="#f0f0f0" textLength="29.6" lengthAdjust="spacingAndGlyphs" stroke="#f0f0f0" stroke-width="0.25" stroke-linejoin="round">17</text>
<text x="2137.5" y="2172.9" font-size="25.4" fill="#f0f0f0" textLength="29.6" lengthAdjust="spacingAndGlyphs" stroke="#f0f0f0" stroke-width="0.25" stroke-linejoin="round">22</text>
<text x="2258.0" y="2172.9" font-size="25.4" fill="#f0f0f0" textLength="29.6" lengthAdjust="spacingAndGlyphs" stroke="#f0f0f0" stroke-width="0.25" stroke-linejoin="round">25</text>
<text x="2448.1" y="2172.9" font-size="25.4" fill="#f0f0f0" textLength="51.0" lengthAdjust="spacingAndGlyphs" font-weight="bold">Aug</text>
<text x="2586.5" y="2172.9" font-size="25.4" fill="#f0f0f0" textLength="15.0" lengthAdjust="spacingAndGlyphs" stroke="#f0f0f0" stroke-width="0.25" stroke-linejoin="round">6</text>
<text x="2699.7" y="2172.9" font-size="25.4" fill="#f0f0f0" textLength="29.6" lengthAdjust="spacingAndGlyphs" stroke="#f0f0f0" stroke-width="0.25" stroke-linejoin="round">11</text>
<text x="2820.2" y="2172.9" font-size="25.4" fill="#f0f0f0" textLength="29.6" lengthAdjust="spacingAndGlyphs" stroke="#f0f0f0" stroke-width="0.25" stroke-linejoin="round">14</text>
<text x="2940.7" y="2172.9" font-size="25.4" fill="#f0f0f0" textLength="29.6" lengthAdjust="spacingAndGlyphs" stroke="#f0f0f0" stroke-width="0.25" stroke-linejoin="round">19</text>
<text x="3061.1" y="2172.9" font-size="25.4" fill="#f0f0f0" textLength="29.6" lengthAdjust="spacingAndGlyphs" stroke="#f0f0f0" stroke-width="0.25" stroke-linejoin="round">22</text>
<text x="3181.6" y="2172.9" font-size="25.4" fill="#f0f0f0" textLength="29.6" lengthAdjust="spacingAndGlyphs" stroke="#f0f0f0" stroke-width="0.25" stroke-linejoin="round">27</text>
<text x="3291.9" y="2172.9" font-size="25.4" fill="#f0f0f0" textLength="50.0" lengthAdjust="spacingAndGlyphs" font-weight="bold">Sep</text>
<text x="3429.8" y="2172.9" font-size="25.4" fill="#f0f0f0" textLength="15.0" lengthAdjust="spacingAndGlyphs" stroke="#f0f0f0" stroke-width="0.25" stroke-linejoin="round">4</text>
<text x="3550.3" y="2172.9" font-size="25.4" fill="#f0f0f0" textLength="15.0" lengthAdjust="spacingAndGlyphs" stroke="#f0f0f0" stroke-width="0.25" stroke-linejoin="round">9</text>
<text x="3663.5" y="2172.9" font-size="25.4" fill="#f0f0f0" textLength="29.6" lengthAdjust="spacingAndGlyphs" stroke="#f0f0f0" stroke-width="0.25" stroke-linejoin="round">12</text>
<text x="3784.0" y="2172.9" font-size="25.4" fill="#f0f0f0" textLength="29.6" lengthAdjust="spacingAndGlyphs" stroke="#f0f0f0" stroke-width="0.25" stroke-linejoin="round">17</text>
<text x="3904.4" y="2172.9" font-size="25.4" fill="#f0f0f0" textLength="29.6" lengthAdjust="spacingAndGlyphs" stroke="#f0f0f0" stroke-width="0.25" stroke-linejoin="round">22</text>
<text x="4024.9" y="2172.9" font-size="25.4" fill="#f0f0f0" textLength="29.6" lengthAdjust="spacingAndGlyphs" stroke="#f0f0f0" stroke-width="0.25" stroke-linejoin="round">25</text>
<text x="4177.9" y="2172.9" font-size="25.4" fill="#f0f0f0" textLength="44.8" lengthAdjust="spacingAndGlyphs" font-weight="bold">Oct</text>
<text x="4313.3" y="2172.9" font-size="25.4" fill="#f0f0f0" textLength="15.0" lengthAdjust="spacingAndGlyphs" stroke="#f0f0f0" stroke-width="0.25" stroke-linejoin="round">6</text>
<text x="4433.8" y="2172.9" font-size="25.4" fill="#f0f0f0" textLength="15.0" lengthAdjust="spacingAndGlyphs" stroke="#f0f0f0" stroke-width="0.25" stroke-linejoin="round">9</text>
<text x="4546.9" y="2172.9" font-size="25.4" fill="#f0f0f0" textLength="29.6" lengthAdjust="spacingAndGlyphs" stroke="#f0f0f0" stroke-width="0.25" stroke-linejoin="round">14</text>
<text x="4667.4" y="2172.9" font-size="25.4" fill="#f0f0f0" textLength="29.6" lengthAdjust="spacingAndGlyphs" stroke="#f0f0f0" stroke-width="0.25" stroke-linejoin="round">17</text>
</g>
<g transform="translate(26.36,2233.85) scale(1.863)" fill="#d9d9d9"><path d="M14 22H7V11H0V4h14v18z"/><circle cx="20" cy="7.55" r="3.5"/><path d="M28 22h-8l7.5-18h8L28 22z"/></g>
<g transform="translate(20,2225) scale(0.147514)" fill="#d9d9d9" stroke="none"><defs><clipPath id="wclip"><rect x="2100" y="168" width="330" height="167"/></clipPath></defs><rect x="595" y="108" width="162" height="47"/><rect x="652" y="108" width="47" height="227"/><path d="M783.5,335 V168 M783.5,259 A68,66 0 0 1 851.5,193" fill="none" stroke="#d9d9d9" stroke-width="47"/><circle cx="941" cy="252" r="62" fill="none" stroke="#d9d9d9" stroke-width="44"/><rect x="978" y="168" width="47" height="167"/><circle cx="1135" cy="252" r="62" fill="none" stroke="#d9d9d9" stroke-width="44"/><rect x="1172" y="108" width="47" height="227"/><rect x="1250" y="168" width="47" height="167"/><circle cx="1273.5" cy="128" r="29"/><path d="M1348.5,335 V168 M1348.5,242 A51.5,51.5 0 0 1 1451.5,242 V335" fill="none" stroke="#d9d9d9" stroke-width="47"/><circle cx="1583" cy="252" r="62" fill="none" stroke="#d9d9d9" stroke-width="44"/><rect x="1620" y="168" width="47" height="156"/><path d="M1643.5,320 A61,62 0 0 1 1527,346" fill="none" stroke="#d9d9d9" stroke-width="47"/><polygon points="1655,108 1709,108 1776,262 1843,108 1897,108 1802,335 1750,335"/><rect x="1905" y="168" width="47" height="167"/><circle cx="1928.5" cy="128" r="29"/><path d="M2107,290 A60.5,60.5 0 1 1 2120.5,252" fill="none" stroke="#d9d9d9" stroke-width="47"/><rect x="2000" y="236" width="144" height="36"/><polyline points="2140,120 2210,335 2265,168 2320,335 2390,120" fill="none" stroke="#d9d9d9" stroke-width="45" stroke-linejoin="miter" stroke-miterlimit="10" clip-path="url(#wclip)"/></g>
</svg></body></html>
